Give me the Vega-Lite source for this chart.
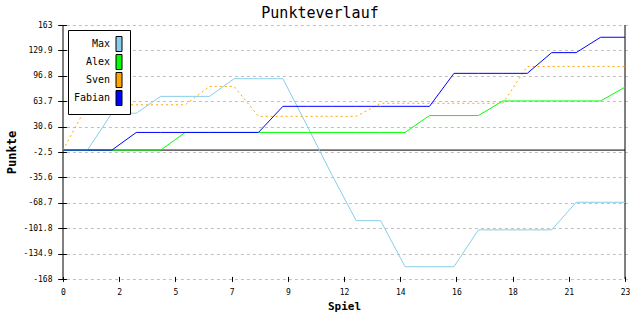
{
  "$schema": "https://vega.github.io/schema/vega-lite/v6.json",
  "width": 562,
  "height": 254,
  "autosize": {"type": "none"},
  "padding": {"left": 63, "top": 25, "right": 15, "bottom": 41},
  "background": "white",
  "title": {"text": "Punkteverlauf", "font": "DejaVu Sans Mono", "fontSize": 15, "fontWeight": "normal", "anchor": "middle", "dx": -24, "offset": 0, "color": "black"},
  "config": {
    "view": {"stroke": null},
    "axisX": {"grid": false, "domain": false, "offset": -2.6, "tickSize": 5, "tickColor": "black", "labelFont": "DejaVu Sans Mono", "labelFontSize": 8, "labelColor": "black", "labelPadding": 7.5, "labelFlush": false, "labelOverlap": false, "titleFont": "DejaVu Sans Mono", "titleFontSize": 11, "titleFontWeight": "bold", "titlePadding": 4, "titleColor": "black"},
    "axisY": {"grid": true, "gridDash": [3, 3], "gridColor": "#c0c0c0", "gridOpacity": 1, "domain": false, "offset": -3.4, "tickSize": 8.7, "tickColor": "black", "labelFont": "DejaVu Sans Mono", "labelFontSize": 8, "labelColor": "black", "labelPadding": 5.7, "labelFlush": false, "labelOverlap": false, "labelSeparation": 0, "titleFont": "DejaVu Sans Mono", "titleFontSize": 12, "titleFontWeight": "bold", "titlePadding": 5, "titleColor": "black"}
  },
  "data": {"values": [
    {"spiel": 0, "spieler": "Max", "punkte": 0}, {"spiel": 1, "spieler": "Max", "punkte": 0}, {"spiel": 2, "spieler": "Max", "punkte": 48}, {"spiel": 3, "spieler": "Max", "punkte": 48}, {"spiel": 4, "spieler": "Max", "punkte": 70}, {"spiel": 5, "spieler": "Max", "punkte": 70}, {"spiel": 6, "spieler": "Max", "punkte": 70}, {"spiel": 7, "spieler": "Max", "punkte": 93}, {"spiel": 8, "spieler": "Max", "punkte": 93}, {"spiel": 9, "spieler": "Max", "punkte": 93}, {"spiel": 10, "spieler": "Max", "punkte": 31}, {"spiel": 11, "spieler": "Max", "punkte": -32}, {"spiel": 12, "spieler": "Max", "punkte": -92}, {"spiel": 13, "spieler": "Max", "punkte": -92}, {"spiel": 14, "spieler": "Max", "punkte": -152}, {"spiel": 15, "spieler": "Max", "punkte": -152}, {"spiel": 16, "spieler": "Max", "punkte": -152}, {"spiel": 17, "spieler": "Max", "punkte": -104}, {"spiel": 18, "spieler": "Max", "punkte": -104}, {"spiel": 19, "spieler": "Max", "punkte": -104}, {"spiel": 20, "spieler": "Max", "punkte": -104}, {"spiel": 21, "spieler": "Max", "punkte": -68}, {"spiel": 22, "spieler": "Max", "punkte": -68}, {"spiel": 23, "spieler": "Max", "punkte": -68},
    {"spiel": 0, "spieler": "Alex", "punkte": 0}, {"spiel": 1, "spieler": "Alex", "punkte": 0}, {"spiel": 2, "spieler": "Alex", "punkte": 0}, {"spiel": 3, "spieler": "Alex", "punkte": 0}, {"spiel": 4, "spieler": "Alex", "punkte": 0}, {"spiel": 5, "spieler": "Alex", "punkte": 23}, {"spiel": 6, "spieler": "Alex", "punkte": 23}, {"spiel": 7, "spieler": "Alex", "punkte": 23}, {"spiel": 8, "spieler": "Alex", "punkte": 23}, {"spiel": 9, "spieler": "Alex", "punkte": 23}, {"spiel": 10, "spieler": "Alex", "punkte": 23}, {"spiel": 11, "spieler": "Alex", "punkte": 23}, {"spiel": 12, "spieler": "Alex", "punkte": 23}, {"spiel": 13, "spieler": "Alex", "punkte": 23}, {"spiel": 14, "spieler": "Alex", "punkte": 23}, {"spiel": 15, "spieler": "Alex", "punkte": 45}, {"spiel": 16, "spieler": "Alex", "punkte": 45}, {"spiel": 17, "spieler": "Alex", "punkte": 45}, {"spiel": 18, "spieler": "Alex", "punkte": 64}, {"spiel": 19, "spieler": "Alex", "punkte": 64}, {"spiel": 20, "spieler": "Alex", "punkte": 64}, {"spiel": 21, "spieler": "Alex", "punkte": 64}, {"spiel": 22, "spieler": "Alex", "punkte": 64}, {"spiel": 23, "spieler": "Alex", "punkte": 82},
    {"spiel": 0, "spieler": "Sven", "punkte": 0}, {"spiel": 1, "spieler": "Sven", "punkte": 59}, {"spiel": 2, "spieler": "Sven", "punkte": 59}, {"spiel": 3, "spieler": "Sven", "punkte": 59}, {"spiel": 4, "spieler": "Sven", "punkte": 59}, {"spiel": 5, "spieler": "Sven", "punkte": 59}, {"spiel": 6, "spieler": "Sven", "punkte": 83}, {"spiel": 7, "spieler": "Sven", "punkte": 83}, {"spiel": 8, "spieler": "Sven", "punkte": 44}, {"spiel": 9, "spieler": "Sven", "punkte": 44}, {"spiel": 10, "spieler": "Sven", "punkte": 44}, {"spiel": 11, "spieler": "Sven", "punkte": 44}, {"spiel": 12, "spieler": "Sven", "punkte": 44}, {"spiel": 13, "spieler": "Sven", "punkte": 61}, {"spiel": 14, "spieler": "Sven", "punkte": 61}, {"spiel": 15, "spieler": "Sven", "punkte": 61}, {"spiel": 16, "spieler": "Sven", "punkte": 61}, {"spiel": 17, "spieler": "Sven", "punkte": 61}, {"spiel": 18, "spieler": "Sven", "punkte": 61}, {"spiel": 19, "spieler": "Sven", "punkte": 109}, {"spiel": 20, "spieler": "Sven", "punkte": 109}, {"spiel": 21, "spieler": "Sven", "punkte": 109}, {"spiel": 22, "spieler": "Sven", "punkte": 109}, {"spiel": 23, "spieler": "Sven", "punkte": 109},
    {"spiel": 0, "spieler": "Fabian", "punkte": 0}, {"spiel": 1, "spieler": "Fabian", "punkte": 0}, {"spiel": 2, "spieler": "Fabian", "punkte": 0}, {"spiel": 3, "spieler": "Fabian", "punkte": 23}, {"spiel": 4, "spieler": "Fabian", "punkte": 23}, {"spiel": 5, "spieler": "Fabian", "punkte": 23}, {"spiel": 6, "spieler": "Fabian", "punkte": 23}, {"spiel": 7, "spieler": "Fabian", "punkte": 23}, {"spiel": 8, "spieler": "Fabian", "punkte": 23}, {"spiel": 9, "spieler": "Fabian", "punkte": 57}, {"spiel": 10, "spieler": "Fabian", "punkte": 57}, {"spiel": 11, "spieler": "Fabian", "punkte": 57}, {"spiel": 12, "spieler": "Fabian", "punkte": 57}, {"spiel": 13, "spieler": "Fabian", "punkte": 57}, {"spiel": 14, "spieler": "Fabian", "punkte": 57}, {"spiel": 15, "spieler": "Fabian", "punkte": 57}, {"spiel": 16, "spieler": "Fabian", "punkte": 100}, {"spiel": 17, "spieler": "Fabian", "punkte": 100}, {"spiel": 18, "spieler": "Fabian", "punkte": 100}, {"spiel": 19, "spieler": "Fabian", "punkte": 100}, {"spiel": 20, "spieler": "Fabian", "punkte": 127}, {"spiel": 21, "spieler": "Fabian", "punkte": 127}, {"spiel": 22, "spieler": "Fabian", "punkte": 147}, {"spiel": 23, "spieler": "Fabian", "punkte": 147}
  ]},
  "layer": [
    {
      "data": {"values": [{"z": 0}]},
      "mark": {"type": "rule", "color": "black", "strokeWidth": 1},
      "encoding": {"y": {"field": "z", "type": "quantitative", "scale": {"domain": [-168, 163], "nice": false, "zero": false}, "title": "Punkte",
        "axis": {"values": [163, 129.9, 96.8, 63.7, 30.6, -2.5, -35.6, -68.7, -101.8, -134.9, -168], "labelExpr": "'' + datum.value", "labelOverlap": false}}}
    },
    {
      "data": {"values": [{"xv": 0}, {"xv": 23}]},
      "mark": {"type": "rule", "color": "black", "strokeWidth": 1},
      "encoding": {"x": {"field": "xv", "type": "quantitative", "scale": {"domain": [0, 23], "nice": false, "zero": false}, "title": "Spiel",
        "axis": {"values": [0, 2.3, 4.6, 6.9, 9.2, 11.5, 13.8, 16.1, 18.4, 20.7, 23], "labelExpr": "format(datum.value, '.0f')", "labelOverlap": false}}}
    },
    {
      "transform": [{"filter": "datum.spieler === 'Max' || datum.spieler === 'Alex'"}],
      "mark": {"type": "line", "strokeWidth": 1},
      "encoding": {
        "x": {"field": "spiel", "type": "quantitative", "scale": {"domain": [0, 23], "nice": false, "zero": false}, "title": "Spiel",
              "axis": {"values": [0, 2.3, 4.6, 6.9, 9.2, 11.5, 13.8, 16.1, 18.4, 20.7, 23], "labelExpr": "format(datum.value, '.0f')", "labelOverlap": false}},
        "y": {"field": "punkte", "type": "quantitative", "scale": {"domain": [-168, 163], "nice": false, "zero": false}, "title": "Punkte",
              "axis": {"values": [163, 129.9, 96.8, 63.7, 30.6, -2.5, -35.6, -68.7, -101.8, -134.9, -168], "labelExpr": "'' + datum.value", "labelOverlap": false}},
        "color": {"field": "spieler", "type": "nominal", "legend": null,
          "scale": {"domain": ["Alex", "Fabian", "Max", "Sven"], "range": ["#00FF00", "#0000FF", "#87CEEB", "#FFA500"]}}
      }
    },
    {
      "transform": [{"filter": "datum.spieler === 'Sven'"}],
      "mark": {"type": "line", "strokeWidth": 1, "strokeDash": [2, 3]},
      "encoding": {
        "x": {"field": "spiel", "type": "quantitative", "scale": {"domain": [0, 23], "nice": false, "zero": false}, "title": "Spiel",
              "axis": {"values": [0, 2.3, 4.6, 6.9, 9.2, 11.5, 13.8, 16.1, 18.4, 20.7, 23], "labelExpr": "format(datum.value, '.0f')", "labelOverlap": false}},
        "y": {"field": "punkte", "type": "quantitative", "scale": {"domain": [-168, 163], "nice": false, "zero": false}, "title": "Punkte",
              "axis": {"values": [163, 129.9, 96.8, 63.7, 30.6, -2.5, -35.6, -68.7, -101.8, -134.9, -168], "labelExpr": "'' + datum.value", "labelOverlap": false}},
        "color": {"field": "spieler", "type": "nominal", "legend": null, "scale": {"domain": ["Alex", "Fabian", "Max", "Sven"], "range": ["#00FF00", "#0000FF", "#87CEEB", "#FFA500"]}}
      }
    },
    {
      "transform": [{"filter": "datum.spieler === 'Fabian'"}],
      "mark": {"type": "line", "strokeWidth": 1},
      "encoding": {
        "x": {"field": "spiel", "type": "quantitative", "scale": {"domain": [0, 23], "nice": false, "zero": false}, "title": "Spiel",
              "axis": {"values": [0, 2.3, 4.6, 6.9, 9.2, 11.5, 13.8, 16.1, 18.4, 20.7, 23], "labelExpr": "format(datum.value, '.0f')", "labelOverlap": false}},
        "y": {"field": "punkte", "type": "quantitative", "scale": {"domain": [-168, 163], "nice": false, "zero": false}, "title": "Punkte",
              "axis": {"values": [163, 129.9, 96.8, 63.7, 30.6, -2.5, -35.6, -68.7, -101.8, -134.9, -168], "labelExpr": "'' + datum.value", "labelOverlap": false}},
        "color": {"field": "spieler", "type": "nominal", "legend": null, "scale": {"domain": ["Alex", "Fabian", "Max", "Sven"], "range": ["#00FF00", "#0000FF", "#87CEEB", "#FFA500"]}}
      }
    },
    {
      "data": {"values": [{"name": "Max"}, {"name": "Alex"}, {"name": "Sven"}, {"name": "Fabian"}]},
      "mark": {"type": "square", "filled": true, "stroke": "black", "strokeWidth": 1, "opacity": 1, "size": 0},
      "encoding": {
        "fill": {
          "field": "name", "type": "nominal",
          "scale": {"domain": ["Max", "Alex", "Sven", "Fabian"], "range": ["#87CEEB", "#00FF00", "#FFA500", "#0000FF"]},
          "legend": {
            "title": null, "orient": "top-left", "offset": 5, "fillColor": "white", "strokeColor": "black", "padding": 6,
            "labelFont": "DejaVu Sans Mono", "labelFontSize": 10, "labelColor": "black", "labelAlign": "right", "labelBaseline": "middle",
            "labelOffset": -17, "symbolOffset": 37, "symbolType": "M-0.4,-1H0.4V1H-0.4Z", "symbolSize": 225, "rowPadding": -5,
            "symbolStrokeColor": "black", "symbolStrokeWidth": 1, "symbolOpacity": 1
          }
        }
      }
    }
  ]
}
